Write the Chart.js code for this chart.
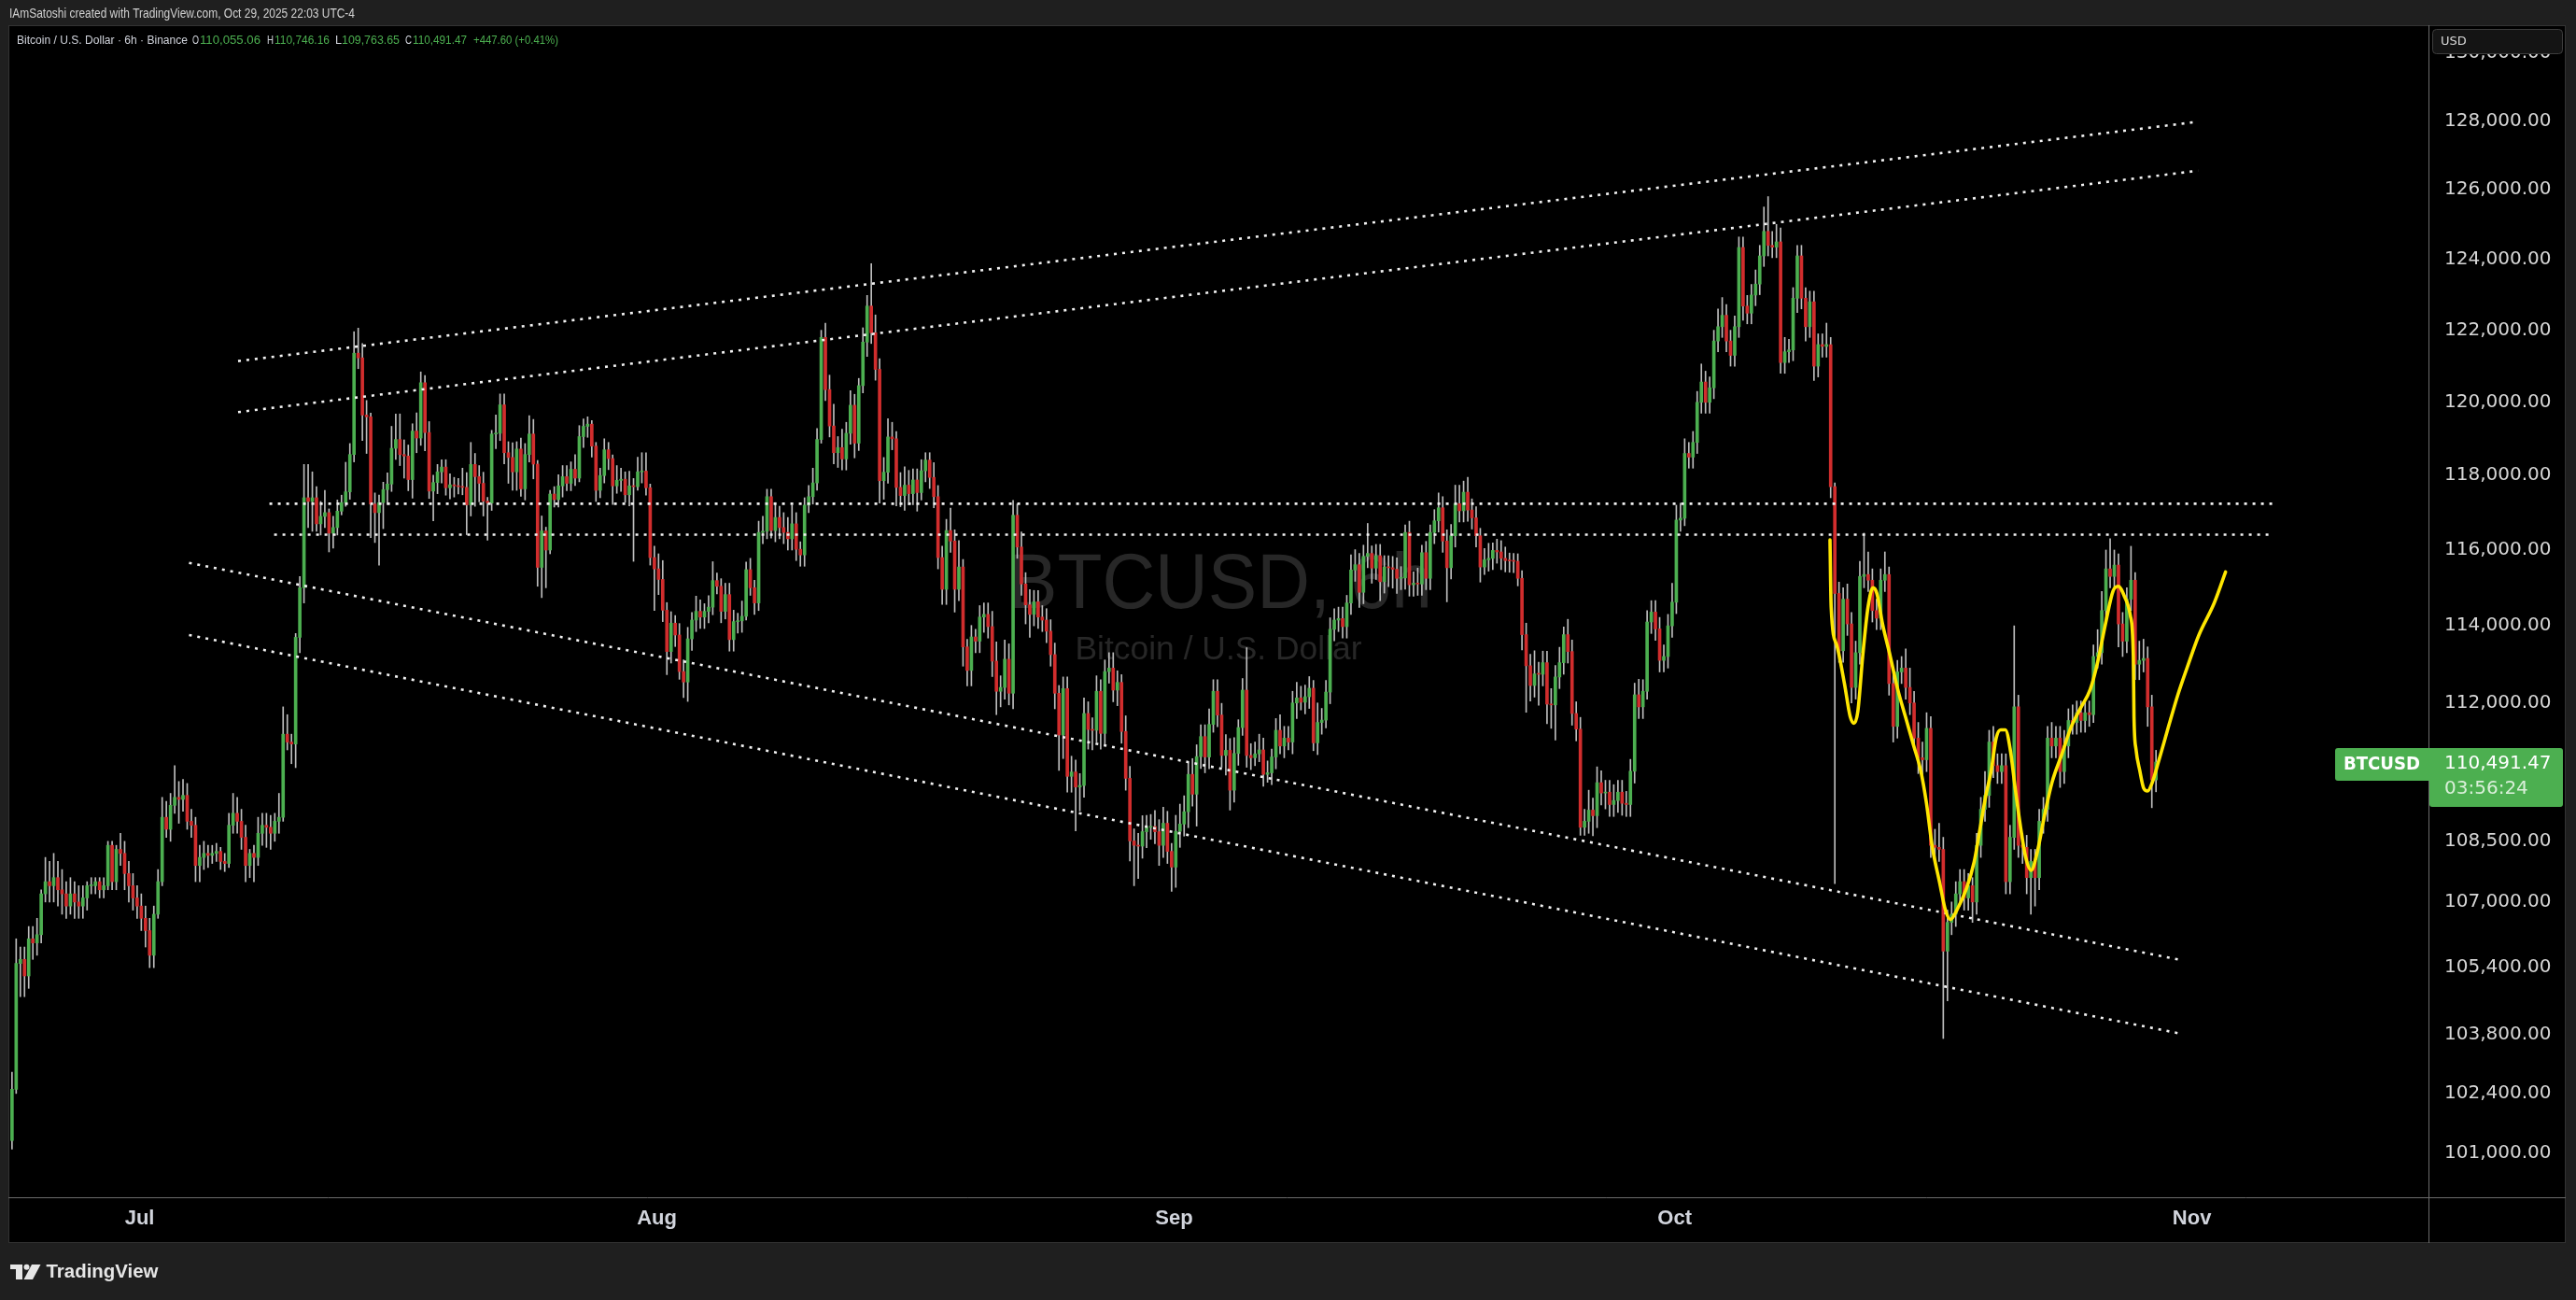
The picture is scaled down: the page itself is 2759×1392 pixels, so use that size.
<!DOCTYPE html>
<html><head><meta charset="utf-8">
<script src="https://cdn.jsdelivr.net/npm/chart.js@4.4.1/dist/chart.umd.min.js"></script>
<style>html,body{margin:0;padding:0;background:#1f1f1f;overflow:hidden}canvas{display:block}</style>
</head><body>
<canvas id="c" width="2759" height="1392" style="width:2759px;height:1392px"></canvas>
<script>
// ---------------- DATA (BTCUSD, 6h bars, prices in thousands of USD) ----------------
const firstOpen = 101.3;
const closes = [
102.5,105.5,105.6,105.2,106.1,106.0,106.2,107.2,107.5,107.4,
107.6,107.3,107.2,106.9,107.2,107.0,106.9,107.1,107.4,107.4,
107.5,107.3,107.4,108.4,107.5,108.3,108.2,107.7,107.4,107.1,
106.9,106.6,106.3,105.7,106.7,107.5,109.1,108.8,109.4,109.6,
109.55,109.65,109.0,108.9,107.9,108.1,108.2,108.15,108.2,108.25,
108.0,107.95,108.9,109.2,109.0,108.6,107.9,108.2,108.1,108.7,
108.9,108.85,108.7,109.0,109.1,111.2,111.0,110.95,113.7,115.0,
117.4,117.3,117.4,116.7,116.9,117.0,116.45,116.6,117.04,117.27,
117.56,118.57,121.36,121.23,119.65,119.6,117.23,117.0,117.27,117.62,
117.77,118.74,118.98,118.57,118.53,117.89,119.21,119.02,120.54,119.17,
117.58,117.81,118.1,118.23,117.67,117.75,117.72,117.7,117.68,117.21,
118.3,117.97,117.79,117.31,117.26,119.13,119.15,119.93,118.62,118.49,
118.1,118.72,117.64,118.57,119.13,118.31,115.54,116.51,116.0,117.5,
117.35,117.72,117.97,117.79,118.17,117.93,119.06,119.34,119.4,118.8,
117.6,118.0,118.7,118.46,117.72,117.87,117.9,117.48,117.72,117.7,
118.1,118.12,117.67,115.8,115.5,115.22,114.41,113.33,114.07,113.76,
112.81,112.54,113.66,114.15,114.38,114.23,114.38,114.49,115.19,115.04,
114.38,114.82,113.64,114.11,114.13,114.25,115.48,115.0,114.6,116.47,
116.5,117.43,116.52,116.87,116.6,116.47,116.3,116.7,116.02,115.87,
117.2,117.43,117.8,118.98,121.8,120.35,119.35,118.62,118.76,118.45,
119.15,119.92,118.88,120.46,121.67,122.68,121.93,120.91,117.86,118.09,
119.05,119.0,117.68,117.46,117.74,117.51,117.88,117.54,118.13,118.42,
117.95,117.43,115.8,114.96,116.52,116.24,114.96,115.55,113.45,112.84,
113.71,113.6,114.23,114.3,113.98,113.08,112.3,112.4,113.13,112.25,
116.93,116.08,115.1,114.55,114.3,114.63,114.23,114.15,113.86,113.25,
112.25,111.18,112.37,110.13,110.24,109.86,109.9,111.73,111.32,111.3,
112.3,111.22,112.81,112.9,112.33,112.53,111.27,110.08,108.51,108.4,
108.38,108.74,108.85,108.87,108.74,108.4,108.95,108.25,107.86,108.75,
108.93,109.24,110.18,109.68,110.63,111.14,110.62,111.45,112.3,111.69,
110.66,110.79,109.78,110.71,111.37,112.33,110.66,110.6,110.7,110.8,
110.18,110.22,110.62,111.3,110.9,111.1,111.0,112.0,112.13,112.02,
112.16,112.38,110.98,111.5,111.56,112.28,113.91,114.15,114.19,113.98,
114.6,115.47,115.61,114.88,115.83,115.91,115.52,115.85,115.16,115.55,
115.53,115.49,115.25,115.26,116.47,115.08,115.12,115.1,115.93,115.25,
116.47,116.78,117.13,116.24,115.53,116.38,117.24,117.05,117.55,117.07,
116.86,116.38,115.55,115.74,115.78,115.99,115.95,115.78,115.72,115.71,
115.7,115.25,113.77,112.96,112.45,112.75,112.74,113.04,111.97,111.95,
112.67,113.04,113.77,113.33,111.73,111.33,108.85,109.0,109.28,109.14,
109.97,109.71,109.73,109.42,109.52,109.73,109.45,109.42,110.26,112.21,
111.9,112.3,114.1,114.36,113.92,113.1,113.2,114.0,114.62,116.8,
116.85,118.6,118.5,118.9,120.0,120.56,120.0,120.4,121.7,122.1,
122.42,121.7,121.3,122.1,124.34,122.68,122.48,122.99,123.3,124.1,
124.8,124.4,124.35,124.5,121.1,121.4,121.45,122.9,124.1,122.9,
122.1,122.8,121.0,121.6,121.55,121.6,117.7,114.85,113.35,114.7,
114.05,112.4,113.3,115.3,115.35,115.2,114.4,114.2,115.2,115.35,
112.5,111.4,112.8,112.9,112.4,112.0,111.1,110.6,110.55,111.35,
108.4,108.35,108.3,105.8,106.5,106.7,107.2,107.5,107.1,107.4,
107.0,108.4,109.3,109.65,111.0,110.4,110.25,110.4,107.5,108.6,
111.9,108.4,108.35,107.6,108.0,107.6,109.0,109.3,111.1,110.9,
111.1,110.25,110.9,111.55,111.5,111.75,111.55,111.75,111.7,113.2,
113.3,114.4,115.5,115.3,115.6,114.05,113.6,114.7,115.2,113.0,
113.1,113.15,111.9,110.04,110.49
];
// wick lengths beyond the body, in hundreds of USD
const wickUp = [
4,6,3,3,3,3,4,1,6,5, 6,4,5,3,4,3,4,3,1,2, 1,1,2,1,1,1,4,3,3,3, 3,3,3,3,2,3,5,4,3,8,
4,4,3,3,2,3,3,2,2,2, 1,2,3,5,4,3,3,1,2,4, 3,3,3,2,6,7,5,2,1,3, 9,9,7,3,4,6,1,3,3,2,
8,3,6,7,4,4,1,3,2,2, 3,6,7,7,4,3,2,5,3,2, 3,2,2,2,2,3,2,2,5,4, 6,3,3,3,1,1,5,3,3,3,
4,2,3,3,5,4,1,4,1,1, 2,3,3,3,2,4,3,2,2,1, 1,2,3,2,1,4,3,2,4,2, 4,5,5,1,3,4,5,2,3,2,
3,3,3,2,4,3,2,3,5,2, 2,3,3,3,2,4,2,3,2,3, 4,2,2,4,3,4,4,5,3,2, 2,3,4,3,2,4,4,6,3,5,
3,4,3,2,4,3,12,5,3,4, 5,4,2,4,5,4,3,3,3,2, 2,4,3,3,3,6,3,7,2,2, 3,2,3,3,3,4,5,3,5,4,
4,3,4,3,4,3,3,3,3,3, 3,2,3,3,4,3,3,4,3,3, 4,3,3,4,4,3,2,4,3,3, 3,4,3,3,4,3,4,3,2,4,
5,4,3,4,3,3,3,4,3,3, 3,4,3,4,2,3,11,3,3,4, 3,3,2,3,4,3,3,3,4,3, 3,3,2,5,3,3,3,3,3,3,
2,4,4,3,3,8,2,3,3,3, 3,3,3,3,2,3,3,4,2,3, 2,3,4,3,3,3,5,5,3,4, 3,3,2,3,4,2,3,3,3,2,
2,2,2,3,3,6,3,3,3,4, 3,4,2,4,3,3,3,3,5,3, 4,3,3,3,4,3,3,3,3,3, 4,3,3,3,3,3,3,3,5,4,
4,4,3,3,3,5,3,3,3,5, 5,3,3,3,3,3,3,3,4,3, 7,10,4,5,4,4,3,3,3,3, 3,3,3,3,3,6,2,1,3,3,
4,3,3,4,11,6,3,3,3,6, 2,3,3,3,5,5,3,4,4,4, 3,4,6,3,3,3,3,3,3,3, 2,3,3,6,3,4,3,3,3,3,
21,3,3,3,3,3,3,3,3,4, 3,3,4,3,4,3,3,3,3,3, 6,5,5,8,4,3,3,3,9,2, 5,5,3,3,3
];
const wickDown = [
2,1,8,5,3,4,3,2,2,4, 4,4,5,3,2,4,3,3,3,2, 2,2,2,1,2,2,3,4,4,3, 3,3,4,3,3,1,1,2,3,2,
6,3,2,3,4,4,3,3,2,2, 2,2,1,2,3,3,4,3,6,2, 3,5,4,2,3,1,2,5,6,4, 4,7,8,2,3,3,5,4,2,1,
1,2,2,3,7,10,9,8,14,7, 4,2,3,3,6,3,5,4,2,5, 2,8,3,3,2,3,3,2,2,8, 3,8,5,4,10,2,4,2,3,7,
5,5,2,3,2,4,5,8,10,1, 2,2,3,2,2,2,1,3,3,3, 3,2,2,3,5,2,3,2,3,20, 1,3,2,2,11,4,3,6,3,3,
2,4,5,3,3,3,3,3,2,2, 3,2,3,3,3,3,1,2,3,2, 3,2,2,3,3,3,3,3,3,3, 3,2,2,2,1,3,3,3,4,3,
3,3,4,2,2,4,3,3,6,5, 3,3,5,3,4,3,3,5,2,3, 3,3,3,4,4,3,6,3,5,4, 4,3,3,4,3,4,6,4,3,3,
4,3,3,5,6,3,3,3,3,3, 4,9,6,4,4,11,6,3,5,5, 3,4,3,3,3,4,3,3,5,10, 8,3,4,3,3,5,3,3,6,5,
4,3,4,3,8,3,4,3,2,3, 3,5,5,3,3,2,3,3,2,2, 3,2,3,3,2,3,2,3,4,2, 3,3,2,3,3,2,3,3,3,3,
3,3,3,4,3,3,4,3,5,3, 5,5,4,3,3,3,3,3,3,3, 3,3,3,3,9,3,3,3,3,3, 3,3,4,2,3,3,3,3,3,3,
3,2,4,12,4,3,8,3,5,6, 9,3,3,3,3,3,2,2,3,5, 3,3,4,3,3,3,3,3,3,3, 3,3,2,3,3,3,3,3,3,3,
3,2,3,3,3,3,3,3,3,3, 3,3,3,3,3,4,3,3,3,3, 3,3,3,3,3,3,3,3,4,3, 4,3,4,3,3,3,3,74,3,3,
3,4,3,3,3,3,3,3,3,3, 3,4,3,3,3,3,3,4,4,3, 3,3,3,21,12,3,3,3,3,3, 5,3,3,3,3,3,3,3,3,3,
3,3,4,4,9,7,3,3,3,3, 3,4,3,3,3,3,3,3,3,2, 3,3,3,3,3,6,4,3,3,4, 4,3,5,7,3
];
const firstBarDay = -7.65;   // days relative to Jul 1 (time of first 6h bar)
const barStepDays = 0.25;    // 6 hours
const monthDays = [0, 31, 62, 92, 123];
const monthLabels = ['Jul', 'Aug', 'Sep', 'Oct', 'Nov'];
const priceTicks = [101000,102400,103800,105400,107000,108500,110000,112000,114000,116000,118000,120000,122000,124000,126000,128000,130000];
// dotted trend lines (time in days from Jul 1, price in USD)
const lineStartDay = [5.90, 5.90, 7.78, 8.06, 2.96, 2.96];
const lineEndDay = [123.37, 123.37, 127.81, 127.81, 122.39, 122.39];
const lineStartPrice = [121140, 119730, 117240, 116410, 115660, 113760];
const lineEndPrice = [127980, 126550, 117240, 116410, 105580, 103810];
// hand-drawn yellow path
const curveDays = [101.31,101.38,101.72,102.18,102.52,102.75,102.98,103.27,103.59,103.89,104.12,104.46,104.92,105.37,105.83,106.29,106.75,107.09,107.43,107.89,108.23,108.53,108.91,109.49,109.95,110.29,110.63,110.97,111.27,111.54,111.82,112.11,112.41,112.73,113.03,113.37,113.71,114.17,114.62,115.19,115.76,116.33,116.91,117.36,117.82,118.28,118.58,118.96,119.31,119.49,119.53,119.65,119.88,120.11,120.34,120.63,121.02,121.59,122.16,122.73,123.42,124.33,125.02];
const curvePrices = [116.27,114.49,113.49,112.49,111.65,111.48,111.79,113.21,114.49,115.0,114.85,114.05,113.21,112.35,111.65,110.96,110.27,109.46,108.39,107.46,106.80,106.57,106.80,107.33,107.99,108.78,109.60,110.27,111.10,111.31,111.31,110.82,109.83,108.86,108.12,107.78,108.19,109.15,109.98,110.67,111.38,111.87,112.35,113.07,114.05,114.92,115.04,114.77,114.27,113.21,111.65,110.82,110.27,109.83,109.76,109.98,110.53,111.38,112.21,112.93,113.76,114.59,115.42];
const ohlcLabels = ['O', 'H', 'L', 'C'];
const ohlcValues = ['110,055.06', '110,746.16', '109,763.65', '110,491.47'];
const changeText = '+447.60 (+0.41%)';
const lastPrice = 110491.47;
const countdown = '03:56:24';

// ---------------- BUILD ----------------
const UP = '#4caf50', DOWN = '#d12d2d', WICK = '#bdbdbd';
const opens = closes.map((c, i) => i === 0 ? firstOpen : closes[i - 1]);
const barDay = i => firstBarDay + i * barStepDays;
const bodies = closes.map((c, i) => ({ x: barDay(i), y: [opens[i] * 1000, c * 1000] }));
const wicks = closes.map((c, i) => ({
  x: barDay(i),
  y: [(Math.min(opens[i], c) - wickDown[i] / 10) * 1000, (Math.max(opens[i], c) + wickUp[i] / 10) * 1000]
}));
const bodyColors = closes.map((c, i) => c >= opens[i] ? UP : DOWN);

const trendSets = lineStartDay.map((d, k) => ({
  type: 'line',
  data: [{ x: d, y: lineStartPrice[k] }, { x: lineEndDay[k], y: lineEndPrice[k] }],
  borderColor: '#f2f2f2', borderWidth: 2.6, borderDash: [3, 6], borderCapStyle: 'butt',
  pointRadius: 0, fill: false, tension: 0, order: 1
}));
const curveSet = {
  type: 'line',
  data: curveDays.map((d, k) => ({ x: d, y: curvePrices[k] * 1000 })),
  borderColor: '#ffe600', borderWidth: 3.6, pointRadius: 0, fill: false,
  cubicInterpolationMode: 'monotone', order: 0, borderCapStyle: 'round', borderJoinStyle: 'round'
};

function fitText(ctx, text, x, y, w, font, color, align) {
  ctx.save();
  ctx.font = font; ctx.fillStyle = color; ctx.textBaseline = 'middle'; ctx.textAlign = align || 'left';
  const m = ctx.measureText(text).width || 1;
  ctx.translate(x, y); ctx.scale(w / m, 1); ctx.fillText(text, 0, 0);
  ctx.restore();
}

const frame = {
  id: 'tvFrame',
  beforeDraw(chart) {
    const ctx = chart.ctx;
    ctx.save();
    ctx.fillStyle = '#1f1f1f'; ctx.fillRect(0, 0, 2759, 1392);
    ctx.fillStyle = '#000000'; ctx.fillRect(9, 27, 2739, 1304);
    ctx.restore();
  },
  beforeDatasetsDraw(chart) {
    const ctx = chart.ctx;
    fitText(ctx, 'BTCUSD, 6h', 1307, 628, 454, '84px "Liberation Sans"', '#272727', 'center');
    fitText(ctx, 'Bitcoin / U.S. Dollar', 1305, 696, 307, '35px "Liberation Sans"', '#272727', 'center');
  },
  afterDraw(chart) {
    const ctx = chart.ctx;
    ctx.save();
    ctx.strokeStyle = '#333333'; ctx.lineWidth = 1;
    ctx.strokeRect(9.5, 27.5, 2738, 1303);
    ctx.strokeStyle = '#6b6b6b';
    ctx.beginPath(); ctx.moveTo(2601.5, 27); ctx.lineTo(2601.5, 1331); ctx.stroke();
    ctx.beginPath(); ctx.moveTo(9, 1282.5); ctx.lineTo(2748, 1282.5); ctx.stroke();
    fitText(ctx, 'IAmSatoshi created with TradingView.com, Oct 29, 2025 22:03 UTC-4', 10, 15, 370, '14px "Liberation Sans"', '#d0d0d0');
    const G = '#4caf50', T = '#d1d4dc', F = '13.5px "Liberation Sans"';
    fitText(ctx, 'Bitcoin / U.S. Dollar \u00b7 6h \u00b7 Binance', 18, 43, 183, F, T);
    const lx = [206, 286, 359, 434], vx = [214, 294, 366, 442], vw = [65, 59, 62, 58];
    ohlcLabels.forEach((l, k) => {
      fitText(ctx, l, lx[k], 43, 7, F, T);
      fitText(ctx, ohlcValues[k], vx[k], 43, vw[k], F, G);
    });
    fitText(ctx, changeText, 507, 43, 91, F, G);
    ctx.beginPath(); ctx.roundRect(2605.5, 31.5, 139, 26, 4);
    ctx.fillStyle = '#141414'; ctx.fill(); ctx.strokeStyle = '#3d3d3d'; ctx.stroke();
    ctx.fillStyle = '#d8d8d8'; ctx.font = '13px "DejaVu Sans"'; ctx.textBaseline = 'middle'; ctx.textAlign = 'left';
    ctx.fillText('USD', 2614, 45);
    const py = chart.scales.y.getPixelForValue(lastPrice);
    ctx.fillStyle = '#4caf50';
    ctx.beginPath(); ctx.roundRect(2501, py - 15, 101, 35, [3, 0, 0, 3]); ctx.fill();
    ctx.beginPath(); ctx.roundRect(2602, py - 15, 143, 63, [0, 3, 3, 3]); ctx.fill();
    fitText(ctx, 'BTCUSD', 2510, py + 3, 82, 'bold 20px "DejaVu Sans"', '#ffffff');
    ctx.fillStyle = '#ffffff'; ctx.font = '20px "DejaVu Sans"'; ctx.textBaseline = 'middle'; ctx.textAlign = 'left';
    ctx.fillText(lastPrice.toLocaleString('en-US', { minimumFractionDigits: 2 }), 2618, py + 2);
    ctx.fillStyle = '#d9efd9';
    ctx.fillText(countdown, 2618, py + 29);
    ctx.fillStyle = '#e6e6e6';
    ctx.fillRect(11, 1354, 13, 5); ctx.fillRect(17, 1354, 7, 16);
    ctx.beginPath(); ctx.arc(28.5, 1356.7, 3, 0, Math.PI * 2); ctx.fill();
    ctx.beginPath(); ctx.moveTo(34, 1354); ctx.lineTo(43.5, 1354); ctx.lineTo(35, 1370); ctx.lineTo(25.5, 1370); ctx.closePath(); ctx.fill();
    fitText(ctx, 'TradingView', 49.5, 1362.5, 120, 'bold 21px "Liberation Sans"', '#e6e6e6');
    ctx.restore();
  }
};

new Chart(document.getElementById('c'), {
  type: 'bar',
  data: {
    datasets: [
      curveSet,
      ...trendSets,
      { type: 'bar', data: bodies, backgroundColor: bodyColors, barThickness: 3, grouped: false, borderWidth: 0, minBarLength: 1, order: 2 },
      { type: 'bar', data: wicks, backgroundColor: WICK, barThickness: 1, grouped: false, borderWidth: 0, minBarLength: 1, order: 3 }
    ]
  },
  options: {
    responsive: false, animation: false, events: [], devicePixelRatio: 1,
    layout: { padding: { left: 10, top: 27, right: 11, bottom: 62 } },
    plugins: { legend: { display: false }, tooltip: { enabled: false } },
    scales: {
      x: {
        type: 'linear', min: -7.81, max: 137.18, offset: false,
        grid: { display: false, drawTicks: false, offset: false }, border: { display: false },
        afterBuildTicks: s => { s.ticks = monthDays.map(v => ({ value: v })); },
        afterFit: s => { s.height = 48; },
        ticks: {
          autoSkip: false, maxRotation: 0, padding: 10, color: '#d1d4dc',
          font: { family: 'Liberation Sans', size: 22, weight: 'bold' },
          callback: v => monthLabels[monthDays.indexOf(v)]
        }
      },
      y: {
        type: 'logarithmic', position: 'right', min: 99990, max: 130790,
        grid: { display: false, drawTicks: false }, border: { display: false },
        afterBuildTicks: s => { s.ticks = priceTicks.map(v => ({ value: v })); },
        afterFit: s => { s.width = 147; },
        ticks: {
          autoSkip: false, padding: 17, color: '#d6d6d6',
          font: { family: 'DejaVu Sans', size: 20 },
          callback: v => Number(v).toLocaleString('en-US', { minimumFractionDigits: 2, maximumFractionDigits: 2 })
        }
      }
    }
  },
  plugins: [frame]
});
</script>
</body></html>
